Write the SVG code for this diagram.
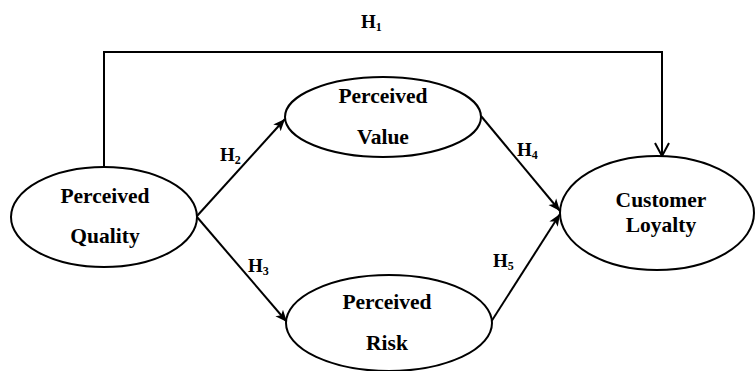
<svg xmlns="http://www.w3.org/2000/svg" width="755" height="371" viewBox="0 0 755 371">
<style>
.node ellipse{fill:#fff;stroke:#000;stroke-width:2}
.lbl{font-family:"Liberation Serif","Times New Roman",serif;font-weight:bold;font-size:21.5px;fill:#000;text-anchor:middle}
.h{font-family:"Liberation Serif","Times New Roman",serif;font-weight:bold;font-size:19px;fill:#000}
.sub{font-size:12px}
.conn path{fill:none;stroke:#000;stroke-width:2}
</style>
<defs>
<marker id="fa" markerUnits="userSpaceOnUse" markerWidth="14" markerHeight="12" refX="12" refY="6" orient="auto">
<path d="M0,1 L12,6 L0,11 L3,6 Z" fill="#000"/>
</marker>
<marker id="oa" markerUnits="userSpaceOnUse" markerWidth="16" markerHeight="18" refX="14" refY="9" orient="auto">
<path d="M1,2 L14,9 L1,16" fill="none" stroke="#000" stroke-width="2"/>
</marker>
</defs>
<rect width="755" height="371" fill="#fff"/>
<g class="conn" id="connectors">
<path d="M104,167 L104,52 L662,52 L662,156" marker-end="url(#oa)"/>
<path d="M197,216 L285,119" marker-end="url(#fa)"/>
<path d="M197,217 L287,322" marker-end="url(#fa)"/>
<path d="M481,116 L560,211" marker-end="url(#fa)"/>
<path d="M491,322 L560,214" marker-end="url(#fa)"/>
</g>
<g class="node" id="perceived-quality">
<ellipse cx="104" cy="217" rx="93" ry="50"/>
<text class="lbl" x="105" y="203">Perceived</text>
<text class="lbl" x="105" y="243">Quality</text>
</g>
<g class="node" id="perceived-value">
<ellipse cx="383" cy="117" rx="98" ry="40"/>
<text class="lbl" x="383" y="103">Perceived</text>
<text class="lbl" x="383" y="144">Value</text>
</g>
<g class="node" id="perceived-risk">
<ellipse cx="389" cy="323" rx="103" ry="48"/>
<text class="lbl" x="387" y="309">Perceived</text>
<text class="lbl" x="387" y="350">Risk</text>
</g>
<g class="node" id="customer-loyalty">
<ellipse cx="657" cy="213" rx="97" ry="57"/>
<text class="lbl" x="661" y="207">Customer</text>
<text class="lbl" x="661" y="232">Loyalty</text>
</g>
<g id="labels">
<text class="h" x="361" y="28">H<tspan class="sub" dy="3">1</tspan></text>
<text class="h" x="220" y="161">H<tspan class="sub" dy="3">2</tspan></text>
<text class="h" x="248" y="272">H<tspan class="sub" dy="3">3</tspan></text>
<text class="h" x="517" y="156">H<tspan class="sub" dy="3">4</tspan></text>
<text class="h" x="493" y="267">H<tspan class="sub" dy="3">5</tspan></text>
</g>
</svg>
